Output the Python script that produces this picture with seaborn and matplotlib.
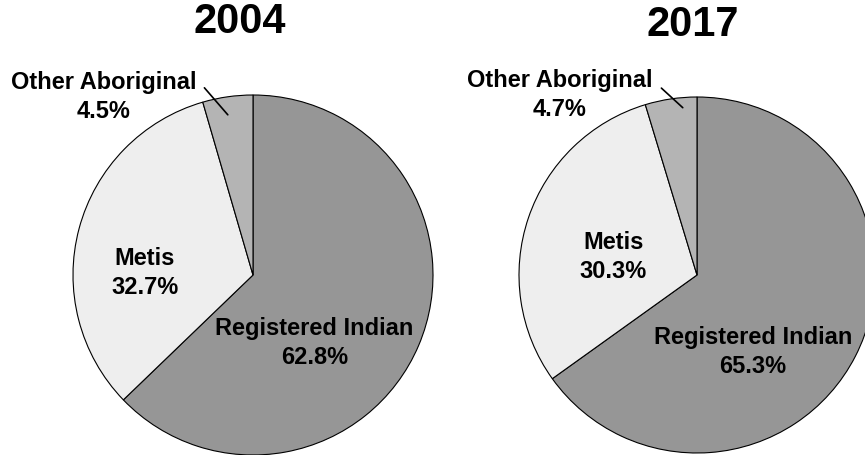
import numpy as np
import matplotlib
matplotlib.use("Agg")
import matplotlib.pyplot as plt
import seaborn as sns

sns.set_theme(style="white")
plt.rcParams['font.family'] = ['Liberation Sans', 'DejaVu Sans']
plt.rcParams['text.color'] = 'black'

################ DATA ################
years = ["2004", "2017"]
groups = ["Registered Indian", "Metis", "Other Aboriginal"]
shares_2004 = [62.8, 32.7, 4.5]
shares_2017 = [65.3, 30.3, 4.7]
colors = ["#969696", "#eeeeee", "#b4b4b4"]

# label positions in pie-radius units (layout only)
label_pos = {
    "2004": [(0.34, -0.38), (-0.60, 0.01), (-0.83, 0.99)],
    "2017": [(0.315, -0.43), (-0.47, 0.10), (-0.77, 1.01)],
}
leader = {
    "2004": [(-0.27, 1.04), (-0.14, 0.89)],
    "2017": [(-0.20, 1.05), (-0.08, 0.94)],
}
# pie centre and radius in pixels, title position in pixels
layout = {"2004": (253, 275, 180), "2017": (697, 275, 178)}
title_xy = {"2004": (240, 22), "2017": (693, 25)}

W, H = 865, 455
fig = plt.figure(figsize=(W / 100, H / 100), dpi=100)

for year, shares in zip(years, [shares_2004, shares_2017]):
    cx, cy, r = layout[year]
    pad = 1.05
    ax = fig.add_axes([(cx - r * pad) / W, (H - cy - r * pad) / H,
                       2 * r * pad / W, 2 * r * pad / H])
    wedges, _ = ax.pie(shares, colors=colors, startangle=90, counterclock=False,
                       wedgeprops=dict(edgecolor="black", linewidth=0.8))
    ax.set_xlim(-pad, pad)
    ax.set_ylim(-pad, pad)
    ax.set_aspect("equal")
    ax.axis("off")

    for name, val, (lx, ly) in zip(groups, shares, label_pos[year]):
        ax.text(lx, ly, f"{name}\n{val:.1f}%", ha="center", va="center",
                fontsize=17, fontweight="bold", linespacing=1.33, clip_on=False)
    (x0, y0), (x1, y1) = leader[year]
    ax.plot([x0, x1], [y0, y1], color="black", lw=1.2, clip_on=False)

    tx, ty = title_xy[year]
    fig.text(tx / W, 1 - ty / H, year, ha="center", va="center",
             fontsize=30, fontweight="bold")

fig.savefig("out.png", dpi=100)
